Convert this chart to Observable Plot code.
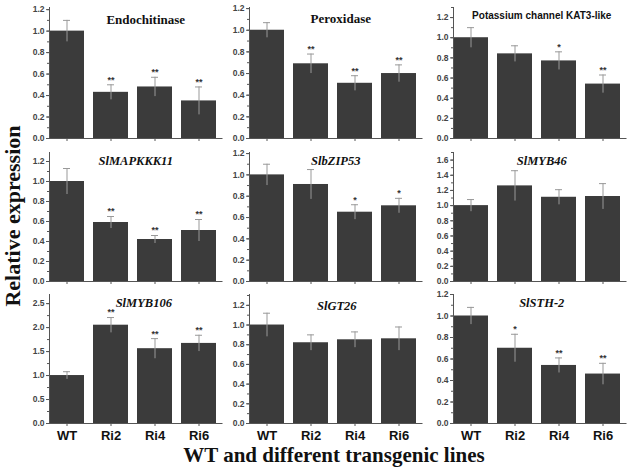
<!DOCTYPE html>
<html><head><meta charset="utf-8">
<script src="https://cdn.jsdelivr.net/npm/d3@7"></script>
<script src="https://cdn.jsdelivr.net/npm/@observablehq/plot@0.6"></script>
<style>
body{margin:0;background:#fff;}
#chart{position:relative;width:632px;height:473px;overflow:hidden;background:#fff;}
#chart svg{position:absolute;}
.ylab{position:absolute;left:13px;top:216px;transform:translate(-50%,-50%) rotate(-90deg);font:bold 22px "Liberation Serif";white-space:nowrap;color:#111;}
.xlab{position:absolute;left:334px;top:455px;transform:translate(-50%,-50%);font:bold 21px "Liberation Serif";white-space:nowrap;color:#111;}
</style></head>
<body><div id="chart"><div class="ylab">Relative expression</div><div class="xlab">WT and different transgenic lines</div></div>
<script>
// ---- data ----
const lines = ["WT", "Ri2", "Ri4", "Ri6"];
const genes = ["Endochitinase", "Peroxidase", "Potassium channel KAT3-like",
  "SlMAPKKK11", "SlbZIP53", "SlMYB46", "SlMYB106", "SlGT26", "SlSTH-2"];

const endochitinaseMean = [1.00, 0.43, 0.48, 0.35];
const endochitinaseErr  = [0.10, 0.07, 0.09, 0.13];
const endochitinaseSig  = ["", "**", "**", "**"];

const peroxidaseMean = [1.00, 0.69, 0.51, 0.60];
const peroxidaseErr  = [0.07, 0.09, 0.07, 0.08];
const peroxidaseSig  = ["", "**", "**", "**"];

const kat3Mean = [1.00, 0.84, 0.77, 0.54];
const kat3Err  = [0.10, 0.08, 0.09, 0.09];
const kat3Sig  = ["", "", "*", "**"];

const mapkkk11Mean = [1.00, 0.59, 0.42, 0.51];
const mapkkk11Err  = [0.13, 0.06, 0.04, 0.11];
const mapkkk11Sig  = ["", "**", "**", "**"];

const bzip53Mean = [1.00, 0.91, 0.65, 0.71];
const bzip53Err  = [0.10, 0.14, 0.07, 0.07];
const bzip53Sig  = ["", "", "*", "*"];

const myb46Mean = [1.00, 1.26, 1.11, 1.12];
const myb46Err  = [0.08, 0.20, 0.10, 0.17];
const myb46Sig  = ["", "", "", ""];

const myb106Mean = [1.00, 2.05, 1.56, 1.67];
const myb106Err  = [0.08, 0.16, 0.21, 0.17];
const myb106Sig  = ["", "**", "**", "**"];

const gt26Mean = [1.00, 0.82, 0.85, 0.86];
const gt26Err  = [0.12, 0.08, 0.08, 0.12];
const gt26Sig  = ["", "", "", ""];

const sth2Mean = [1.00, 0.70, 0.54, 0.46];
const sth2Err  = [0.08, 0.13, 0.07, 0.10];
const sth2Sig  = ["", "*", "**", "**"];

const yMaxes   = [1.22, 1.21, 1.30, 1.29, 1.21, 1.70, 2.69, 1.31, 1.20];
const yTickSteps = [0.2, 0.2, 0.2, 0.2, 0.2, 0.2, 0.5, 0.2, 0.2];

// ---- layout ----
const colLeft = [9, 208.5, 413];
const W = 214.5;
const rowTop = [0, 144, 286];
const mTop = [7, 8, 8];
const mBot = [6, 6, 28];
const plotH = [131, 129, 129];
const titleDx = [10, 5, 2, 0, 0, 2, 8, 1, 2];
const titleDy = [12, 11.3, 8.7, 8.7, 8, 8, 8.3, 11, 8];
const titleStyle = ["serif", "serif", "sans", "it", "it", "it", "it", "it", "it"];

const means = [endochitinaseMean, peroxidaseMean, kat3Mean, mapkkk11Mean, bzip53Mean, myb46Mean, myb106Mean, gt26Mean, sth2Mean];
const errs = [endochitinaseErr, peroxidaseErr, kat3Err, mapkkk11Err, bzip53Err, myb46Err, myb106Err, gt26Err, sth2Err];
const sigs = [endochitinaseSig, peroxidaseSig, kat3Sig, mapkkk11Sig, bzip53Sig, myb46Sig, myb106Sig, gt26Sig, sth2Sig];

const chart = document.getElementById("chart");

genes.forEach((gene, k) => {
  const row = Math.floor(k / 3), col = k % 3;
  const data = lines.map((l, i) => ({line: l, mean: means[k][i], err: errs[k][i], sig: sigs[k][i]}));
  const step = yTickSteps[k], yMax = yMaxes[k];
  const nMaj = Math.floor(yMax / step + 1e-6);
  const ticks = d3.range(0, nMaj + 1).map(i => +(i * step).toFixed(2));
  const nMin = Math.floor(yMax / (step / 2) + 1e-6);
  const minor = d3.range(0, nMin + 1).map(i => +(i * step / 2).toFixed(2));
  const ts = titleStyle[k];
  const svg = Plot.plot({
    width: W,
    height: mTop[row] + plotH[row] + mBot[row],
    marginLeft: 40, marginRight: 2, marginTop: mTop[row], marginBottom: mBot[row],
    style: {background: "transparent", overflow: "visible"},
    x: {domain: lines, paddingInner: 0.2, paddingOuter: 0.06, align: 0, axis: null, label: null},
    y: {domain: [0, yMax], axis: null, label: null},
    marks: [
      Plot.barY(data, {x: "line", y: "mean", fill: "#3b3b3b"}),
      Plot.ruleX(data, {x: "line", y1: d => d.mean - d.err, y2: d => d.mean + d.err, stroke: "#999", strokeWidth: 1}),
      Plot.tickY(data, {x: "line", y: d => d.mean + d.err, stroke: "#999", strokeWidth: 1, insetLeft: 14, insetRight: 14}),
      Plot.text(data, {x: "line", y: d => d.mean + d.err, text: "sig", dy: -5, fontSize: 9, fontWeight: "bold", fill: "#333", fontFamily: "Liberation Sans"}),
      Plot.frame({anchor: "left", stroke: "#555"}),
      Plot.frame({anchor: "bottom", stroke: "#555"}),
      Plot.axisY({ticks: minor, tickSize: 2, tickFormat: () => "", stroke: "#555", label: null}),
      Plot.axisY({ticks, tickSize: 3, tickFormat: d3.format(".1f"), tickPadding: 2, stroke: "#555",
        fontSize: 8.5, fontWeight: "bold", fill: "#444", fontFamily: "Liberation Sans", label: null}),
      Plot.axisX({tickSize: 3, stroke: "#555", label: null, tickPadding: 4,
        tickFormat: row === 2 ? d => d : () => "",
        fontSize: 13, fontWeight: "bold", fill: "#111", fontFamily: "Liberation Sans"}),
      Plot.text([gene], {frameAnchor: "top", lineAnchor: "middle", dx: titleDx[k], dy: titleDy[k],
        fontFamily: ts === "sans" ? "Liberation Sans" : "Liberation Serif",
        fontStyle: ts === "it" ? "italic" : "normal",
        fontWeight: "bold",
        fontSize: ts === "sans" ? 10 : (ts === "serif" ? 13 : 12.5),
        fill: "#111"})
    ]
  });
  svg.style.left = colLeft[col] + "px";
  svg.style.top = rowTop[row] + "px";
  chart.appendChild(svg);
});
</script>
</body></html>
